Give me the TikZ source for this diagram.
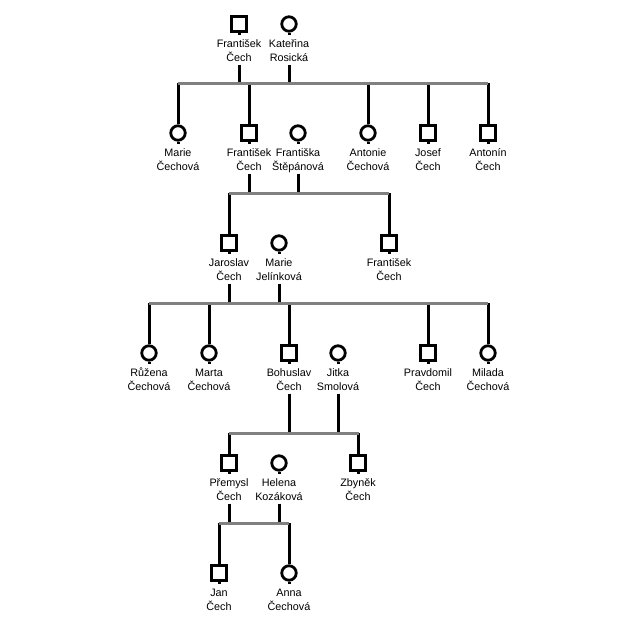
\documentclass[tikz,border=0pt]{standalone}
\usepackage{fontspec}
\setmainfont{Liberation Sans}
\definecolor{bargray}{HTML}{808080}
\newcommand\ls{\rule[-3.5pt]{0pt}{14pt}}
\tikzset{
  sym/.style={draw=black, line width=2.8pt, fill=white, inner sep=0pt, minimum size=14.5pt},
  male/.style={sym, rectangle},
  female/.style={sym, circle},
  lab/.style={inner sep=0pt, align=center, font=\fontsize{10.8}{14}\selectfont, anchor=north},
  link/.style={draw=black, line width=3pt},
  bar/.style={draw=bargray, line width=3pt},
}
\newcommand\pers[5]{%
  \node[#4] (#1) at (#2,#3) {};
  \draw[link] (#1.south) -- ++(0,2.5);
  \node[lab] (#1l) at ([yshift=-12.3pt]#1.center) {\ls#5};
}
\begin{document}
\begin{tikzpicture}[x=1pt,y=-1pt]
\useasboundingbox (0,0) rectangle (640,627);
% generation 1
\pers{a1}{239}{24}{male}{František\\\ls Čech}
\pers{a2}{289}{24}{female}{Kateřina\\\ls Rosická}
% generation 2
\pers{b1}{178}{133}{female}{Marie\\\ls Čechová}
\pers{b2}{249}{133}{male}{František\\\ls Čech}
\pers{b3}{298}{133}{female}{Františka\\\ls Štěpánová}
\pers{b4}{368}{133}{female}{Antonie\\\ls Čechová}
\pers{b5}{428}{133}{male}{Josef\\\ls Čech}
\pers{b6}{488}{133}{male}{Antonín\\\ls Čech}
% generation 3
\pers{c1}{229}{243}{male}{Jaroslav\\\ls Čech}
\pers{c2}{279}{243}{female}{Marie\\\ls Jelínková}
\pers{c3}{389}{243}{male}{František\\\ls Čech}
% generation 4
\pers{d1}{149}{353}{female}{Růžena\\\ls Čechová}
\pers{d2}{209}{353}{female}{Marta\\\ls Čechová}
\pers{d3}{289}{353}{male}{Bohuslav\\\ls Čech}
\pers{d4}{338}{353}{female}{Jitka\\\ls Smolová}
\pers{d5}{428}{353}{male}{Pravdomil\\\ls Čech}
\pers{d6}{488}{353}{female}{Milada\\\ls Čechová}
% generation 5
\pers{e1}{229}{463}{male}{Přemysl\\\ls Čech}
\pers{e2}{279}{463}{female}{Helena\\\ls Kozáková}
\pers{e3}{358}{463}{male}{Zbyněk\\\ls Čech}
% generation 6
\pers{f1}{219}{573}{male}{Jan\\\ls Čech}
\pers{f2}{289}{573}{female}{Anna\\\ls Čechová}
% bar coordinates
\coordinate (p1L) at (178,83);  \coordinate (p1R) at (488,83);
\coordinate (p2L) at (229,193); \coordinate (p2R) at (389,193);
\coordinate (p3L) at (149,303); \coordinate (p3R) at (488,303);
\coordinate (p4L) at (229,433); \coordinate (p4R) at (359,433);
\coordinate (p5L) at (219,523); \coordinate (p5R) at (289,523);
% parents to bars
\foreach \p/\y in {a1/83,a2/83,b2/193,b3/193,c1/303,c2/303,d3/433,d4/433,e1/523,e2/523}
  \draw[link] (\p l.south) -- (\p l.south |- 0,\y);
% children from bars
\foreach \c/\y in {b1/83,b2/83,b4/83,b5/83,b6/83,c1/193,c3/193,d1/303,d2/303,d3/303,d5/303,d6/303,e1/433,e3/433,f1/523,f2/523}
  \draw[link] (\c.north |- 0,\y) -- (\c.north);
% bars
\draw[bar] (p1L) -- (p1R);
\draw[bar] (p2L) -- (p2R);
\draw[bar] (p3L) -- (p3R);
\draw[bar] (p4L) -- (p4R);
\draw[bar] (p5L) -- (p5R);
\end{tikzpicture}
\end{document}
